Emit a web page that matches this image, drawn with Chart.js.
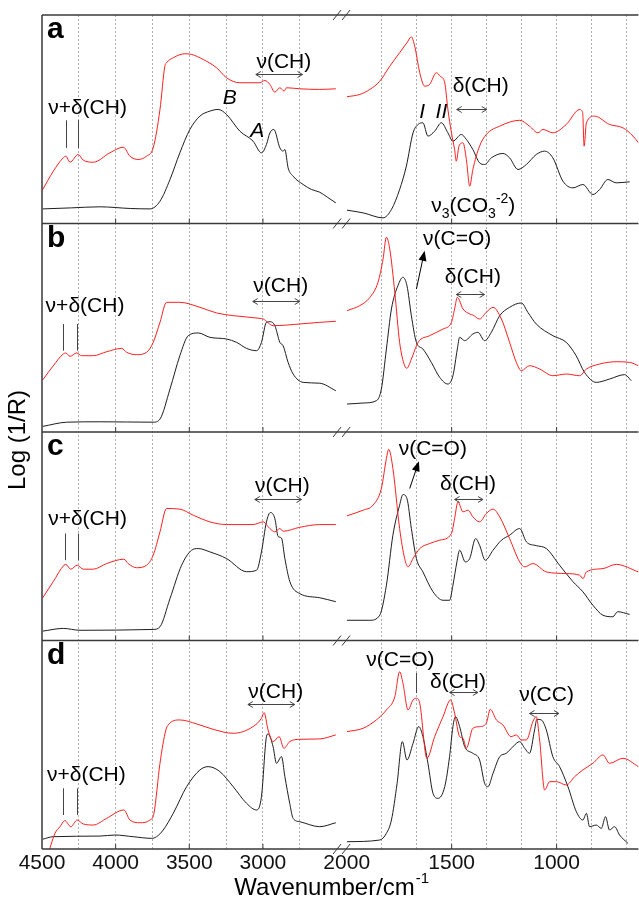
<!DOCTYPE html>
<html>
<head>
<meta charset="utf-8">
<title>NIR / MIR spectra</title>
<script src="https://cdn.jsdelivr.net/npm/chart.js@4.4.1/dist/chart.umd.min.js"></script>
<style>
  html, body { margin: 0; padding: 0; background: #fff; }
  #wrap { width: 639px; height: 906px; }
</style>
</head>
<body>
<div id="wrap"><canvas id="spectraChart" width="639" height="906"></canvas></div>
<script>
// broken wavenumber axis: 4500-2500 on the left, 2000-610 on the right
var hiTicks = [4500, 4250, 4000, 3750, 3500, 3250, 3000, 2750];
var hiLabels = [4500, 4000, 3500, 3000];
var loTicks = [2000, 1833.33, 1666.67, 1500, 1333.33, 1166.67, 1000, 833.33, 666.67];
var loLabels = [2000, 1500, 1000];
var panels = ["a", "b", "c", "d"];

// panel a
var wnRedA = [4495, 4424, 4356, 4339, 4310, 4254, 4220, 4152, 4039, 3948, 3903, 3847, 3790, 3745, 3699, 3666, 3654, 3609, 3530, 3485, 3406, 3315, 3247, 3157, 3021, 2987, 2953, 2919, 2885, 2856, 2840, 2750, 2614, 2505,
  1999, 1938, 1890, 1843, 1795, 1748, 1713, 1692, 1676, 1652, 1629, 1605, 1573, 1554, 1533, 1518, 1501, 1486, 1478, 1465, 1446, 1430, 1414, 1399, 1367, 1335, 1271, 1176, 1129, 1089, 1065, 1018, 954, 890, 876, 869, 858, 819, 748, 684, 636, 610];
var redA = [16.3, 25.0, 31.5, 32.3, 29.4, 33.1, 30.4, 29.4, 33.9, 36.6, 32.3, 30.7, 32.3, 36.3, 54.7, 75.4, 77.1, 79.5, 81.4, 81.1, 78.7, 74.7, 69.9, 67.5, 67.5, 68.6, 66.7, 63.0, 65.1, 63.5, 65.1, 64.6, 64.3, 64.6,
  60.8, 61.9, 64.3, 68.2, 75.4, 81.9, 86.7, 89.5, 85.0, 72.3, 65.9, 66.7, 72.3, 70.6, 67.5, 54.7, 43.5, 35.5, 29.9, 37.1, 38.7, 30.7, 17.9, 25.9, 37.1, 42.7, 46.7, 49.5, 46.7, 43.5, 45.1, 43.5, 47.5, 54.7, 53.2, 37.1, 48.3, 51.5, 47.5, 45.9, 41.9, 38.7];
var wnBlackA = [4495, 4300, 4107, 3900, 3767, 3699, 3631, 3564, 3496, 3428, 3360, 3304, 3247, 3157, 3067, 3010, 2976, 2953, 2926, 2885, 2863, 2851, 2829, 2795, 2727, 2670, 2614, 2560, 2505,
  1999, 1922, 1827, 1787, 1748, 1716, 1684, 1660, 1637, 1613, 1581, 1549, 1518, 1494, 1454, 1430, 1399, 1367, 1343, 1311, 1256, 1224, 1184, 1144, 1097, 1057, 1018, 970, 922, 875, 827, 795, 756, 716, 652];
var blackA = [7.0, 7.5, 8.0, 7.2, 7.0, 10.7, 21.1, 33.9, 45.1, 51.5, 53.9, 54.7, 52.3, 44.3, 39.5, 33.9, 37.9, 43.4, 45.1, 36.3, 34.7, 35.5, 26.7, 22.7, 18.7, 16.3, 15.0, 12.5, 9.9,
  6.4, 5.1, 2.7, 6.7, 16.3, 27.5, 43.5, 47.5, 48.3, 41.9, 44.3, 48.3, 43.5, 39.5, 42.7, 40.3, 35.5, 29.1, 28.3, 31.5, 33.6, 31.5, 25.9, 28.3, 33.1, 34.7, 31.5, 20.3, 17.1, 18.7, 13.9, 16.3, 21.1, 19.5, 20.0];

// panel b
var wnRedB = [4495, 4424, 4356, 4339, 4310, 4265, 4231, 4152, 4061, 3959, 3925, 3857, 3790, 3745, 3699, 3654, 3564, 3428, 3315, 3202, 3021, 2998, 2930, 2750, 2614, 2505,
  1999, 1938, 1890, 1851, 1827, 1811, 1795, 1771, 1748, 1724, 1713, 1692, 1660, 1605, 1541, 1501, 1486, 1473, 1446, 1414, 1399, 1367, 1335, 1303, 1263, 1224, 1192, 1168, 1129, 1081, 1018, 954, 890, 858, 795, 716, 652, 610];
var redB = [25.0, 31.7, 37.4, 37.9, 36.3, 37.9, 36.6, 36.6, 38.5, 40.1, 38.2, 37.1, 38.2, 43.0, 52.6, 62.2, 62.2, 59.8, 57.1, 55.8, 54.5, 54.2, 51.0, 51.8, 52.6, 53.1,
  58.2, 60.6, 64.5, 71.8, 82.9, 93.4, 87.8, 67.0, 43.0, 31.8, 30.6, 35.0, 43.0, 46.2, 49.4, 52.6, 59.0, 64.6, 59.0, 56.6, 56.1, 54.2, 57.4, 59.8, 54.2, 43.0, 33.4, 29.4, 31.8, 30.2, 27.0, 27.8, 27.0, 30.2, 32.6, 33.7, 33.4, 31.8];
var wnBlackB = [4495, 4332, 4107, 3745, 3699, 3631, 3564, 3507, 3439, 3360, 3247, 3179, 3111, 3043, 3010, 2976, 2949, 2919, 2885, 2863, 2829, 2795, 2727, 2614, 2505,
  1999, 1922, 1859, 1835, 1811, 1787, 1756, 1732, 1713, 1692, 1668, 1637, 1597, 1557, 1518, 1494, 1473, 1462, 1438, 1399, 1375, 1343, 1311, 1271, 1224, 1168, 1137, 1097, 1018, 954, 907, 867, 811, 748, 676, 644];
var blackB = [2.7, 4.7, 4.9, 4.7, 6.2, 20.6, 36.6, 46.2, 47.5, 45.4, 44.6, 43.0, 40.1, 39.0, 43.0, 52.6, 52.9, 51.0, 43.0, 41.4, 33.4, 27.8, 23.8, 23.4, 19.8,
  13.4, 13.9, 15.0, 20.6, 39.8, 59.0, 70.2, 74.2, 70.2, 55.8, 43.0, 39.8, 33.4, 26.2, 23.0, 27.0, 39.8, 45.4, 43.8, 47.0, 47.8, 43.8, 47.8, 55.8, 59.8, 61.9, 57.4, 51.8, 46.2, 43.0, 36.6, 28.6, 23.8, 25.4, 27.5, 24.6];

// panel c
var wnRedC = [4495, 4424, 4351, 4339, 4305, 4261, 4220, 4152, 4061, 3944, 3915, 3858, 3790, 3745, 3699, 3654, 3564, 3473, 3360, 3247, 3067, 2998, 2953, 2919, 2885, 2863, 2750, 2614, 2505,
  1999, 1922, 1875, 1835, 1811, 1800, 1780, 1748, 1724, 1708, 1684, 1652, 1605, 1557, 1501, 1486, 1470, 1446, 1422, 1399, 1367, 1335, 1303, 1271, 1224, 1176, 1152, 1113, 1049, 954, 890, 874, 858, 779, 716, 610];
var redC = [20.5, 28.2, 36.1, 36.5, 34.2, 36.1, 34.2, 34.2, 36.9, 39.0, 36.9, 34.9, 36.1, 40.9, 52.1, 63.3, 63.0, 60.1, 56.9, 55.6, 55.6, 56.9, 53.7, 52.1, 53.7, 52.4, 54.3, 55.6, 55.6,
  59.8, 62.5, 64.9, 72.9, 87.3, 91.7, 82.5, 53.7, 39.3, 35.3, 39.3, 44.1, 46.5, 48.1, 51.3, 58.5, 66.5, 61.7, 62.5, 59.3, 56.9, 60.9, 63.0, 59.3, 48.9, 37.7, 35.3, 36.9, 32.9, 32.1, 31.3, 29.7, 32.9, 34.5, 36.5, 32.9];
var wnBlackC = [4495, 4356, 4242, 3745, 3699, 3631, 3552, 3484, 3439, 3360, 3247, 3111, 3043, 3010, 2976, 2949, 2919, 2897, 2874, 2851, 2817, 2750, 2614, 2505,
  1999, 1890, 1843, 1811, 1780, 1748, 1732, 1713, 1692, 1668, 1637, 1589, 1541, 1510, 1494, 1475, 1462, 1435, 1414, 1386, 1367, 1340, 1303, 1263, 1224, 1176, 1144, 1097, 1049, 986, 922, 875, 827, 779, 732, 709, 652];
var blackC = [4.5, 5.8, 4.9, 5.3, 6.6, 20.1, 36.1, 43.3, 44.1, 42.5, 39.3, 33.0, 33.7, 42.5, 56.9, 61.4, 58.5, 49.9, 49.1, 39.3, 28.2, 22.5, 20.5, 18.6,
  9.7, 9.7, 12.1, 26.5, 50.5, 64.9, 70.0, 68.1, 53.7, 39.3, 32.9, 23.4, 19.3, 19.3, 26.5, 37.7, 43.3, 37.7, 39.3, 48.9, 45.7, 38.5, 43.3, 48.1, 50.5, 53.7, 47.3, 45.5, 44.1, 36.1, 28.2, 23.4, 16.9, 12.1, 11.4, 13.8, 12.5];

// panel d
var wnRedD = [4465, 4412, 4378, 4344, 4305, 4261, 4220, 4152, 4061, 3944, 3903, 3835, 3767, 3740, 3699, 3659, 3643, 3564, 3450, 3338, 3202, 3067, 3010, 2992, 2965, 2931, 2890, 2858, 2818, 2750, 2614, 2505,
  1999, 1922, 1859, 1811, 1771, 1748, 1732, 1708, 1684, 1668, 1652, 1618, 1581, 1541, 1505, 1486, 1462, 1446, 1430, 1399, 1367, 1335, 1316, 1287, 1256, 1217, 1192, 1168, 1144, 1113, 1097, 1081, 1057, 1033, 1001, 954, 914, 875, 827, 779, 748, 684, 610];
var redD = [-4.0, 7.5, 10.7, 13.6, 10.7, 13.9, 12.0, 11.5, 14.7, 18.7, 13.9, 12.6, 13.9, 17.1, 41.1, 57.1, 59.5, 61.9, 60.0, 57.4, 55.5, 58.7, 62.7, 65.4, 57.1, 51.5, 53.9, 48.3, 51.5, 52.6, 52.8, 54.7,
  56.3, 57.9, 61.9, 66.7, 73.0, 85.0, 79.5, 66.7, 71.5, 72.3, 69.9, 43.5, 53.9, 63.5, 71.5, 65.1, 53.9, 53.1, 48.3, 57.9, 58.7, 60.3, 67.0, 61.9, 59.5, 53.9, 54.7, 52.3, 52.3, 61.1, 63.5, 52.3, 28.3, 32.3, 32.3, 30.7, 34.7, 37.9, 41.1, 45.1, 41.1, 43.5, 39.5];
var wnBlackD = [4495, 4424, 4107, 4005, 3881, 3756, 3722, 3677, 3609, 3518, 3428, 3372, 3292, 3202, 3111, 3043, 3010, 2976, 2965, 2931, 2908, 2874, 2851, 2818, 2795, 2750, 2614, 2505,
  1999, 1843, 1811, 1787, 1760, 1735, 1713, 1684, 1657, 1637, 1613, 1589, 1565, 1533, 1510, 1494, 1482, 1462, 1438, 1399, 1367, 1343, 1327, 1303, 1271, 1240, 1208, 1176, 1152, 1129, 1105, 1094, 1073, 1049, 1018, 986, 946, 906, 875, 858, 843, 811, 787, 767, 748, 724, 700, 660];
var blackD = [4.7, 5.9, 6.2, 6.7, 5.9, 5.1, 5.9, 9.1, 17.1, 29.9, 37.9, 39.5, 37.1, 29.9, 21.9, 18.7, 25.1, 53.9, 55.2, 49.1, 41.1, 44.3, 34.7, 21.9, 14.7, 13.1, 10.7, 12.6,
  3.5, 4.3, 7.5, 13.9, 31.5, 51.5, 42.7, 50.7, 58.7, 53.9, 41.1, 26.7, 24.3, 29.9, 44.3, 58.7, 63.5, 58.7, 49.1, 45.9, 42.7, 31.5, 29.9, 36.3, 44.3, 45.9, 49.1, 51.5, 48.3, 45.9, 57.1, 62.2, 61.9, 57.1, 44.3, 39.5, 29.9, 17.9, 13.9, 17.1, 10.7, 11.5, 9.9, 15.5, 9.1, 10.7, 6.7, 2.7];

var spectra = {
  a: [[wnRedA, redA], [wnBlackA, blackA]],
  b: [[wnRedB, redB], [wnBlackB, blackB]],
  c: [[wnRedC, redC], [wnBlackC, blackC]],
  d: [[wnRedD, redD], [wnBlackD, blackD]]
};

var RED = "#ff1f1f";
var BLACK = "#1e1e1e";
var FONT = '"Liberation Sans", Arial, sans-serif';

// labels drawn on top of the panels: panel, text, centre wavenumber, baseline (0-100 of panel)
var notes = [
  ["a", "ν+δ(CH)", 4191, 52.6], ["a", "ν(CH)", 2858, 74.8], ["a", "δ(CH)", 1362, 63.0],
  ["b", "ν+δ(CH)", 4208, 57.7], ["b", "ν(CH)", 2879, 67.3], ["b", "ν(C=O)", 1474, 89.7], ["b", "δ(CH)", 1399, 71.5],
  ["c", "ν+δ(CH)", 4191, 55.6], ["c", "ν(CH)", 2868, 71.0], ["c", "ν(C=O)", 1590, 89.2], ["c", "δ(CH)", 1422, 72.4],
  ["d", "ν+δ(CH)", 4199, 32.6], ["d", "ν(CH)", 2913, 72.4], ["d", "ν(C=O)", 1744, 87.8], ["d", "δ(CH)", 1470, 77.4], ["d", "ν(CC)", 1048, 71.0]
];
var italicNotes = [["a", "B", 3225, 57.1], ["a", "A", 3038, 41.7], ["a", "I", 1640, 50.8], ["a", "II", 1549, 50.8]];
var rangeArrows = [
  ["a", 3048, 2731, 71.9], ["a", 1476, 1333, 54.7],
  ["b", 3069, 2750, 63.0], ["b", 1478, 1343, 66.2],
  ["c", 3055, 2738, 68.1], ["c", 1486, 1351, 68.1],
  ["d", 3102, 2784, 69.5], ["d", 1510, 1375, 75.4], ["d", 1129, 989, 65.4]
];
var markLines = [
  ["a", 4339, 49.5, 36.3], ["a", 4254, 49.5, 36.3],
  ["b", 4356, 51.8, 39.0], ["b", 4265, 51.8, 39.0],
  ["c", 4344, 51.3, 38.5], ["c", 4258, 51.3, 38.5],
  ["d", 4356, 29.1, 16.3], ["d", 4265, 29.1, 16.3], ["d", 1668, 84.4, 74.8]
];
var pointerArrows = [["b", 1668, 68.6, 1629, 86.9], ["c", 1700, 72.9, 1656, 86.0]];

function segment(wn, vals, high) {
  var pts = [];
  for (var i = 0; i < wn.length; i++) {
    if (high ? wn[i] >= 2500 : wn[i] <= 2000) pts.push({ x: wn[i], y: vals[i] });
  }
  return pts;
}

var datasets = [];
panels.forEach(function (p) {
  spectra[p].forEach(function (pair, k) {
    [true, false].forEach(function (high) {
      datasets.push({
        label: p + (k ? " black" : " red") + (high ? " high" : " low"),
        data: segment(pair[0], pair[1], high),
        xAxisID: high ? "xHi" : "xLo",
        yAxisID: "y" + p,
        borderColor: k ? BLACK : RED,
        borderWidth: 1,
        pointRadius: 0,
        cubicInterpolationMode: "monotone",
        fill: false
      });
    });
  });
});

function xAxis(ticks, labels, weight, min, max) {
  return {
    type: "linear",
    position: "bottom",
    stack: "wn",
    stackWeight: weight,
    weight: weight === 305 ? 0 : 1,
    reverse: true,
    min: min,
    max: max,
    afterBuildTicks: function (s) { s.ticks = ticks.map(function (v) { return { value: v }; }); },
    afterFit: function (s) { s.height = 28; },
    ticks: {
      autoSkip: false,
      maxRotation: 0,
      padding: 2,
      color: "#111",
      font: { family: FONT, size: 21 },
      callback: function (v) { return labels.indexOf(v) >= 0 ? String(v) : ""; }
    },
    grid: {
      drawTicks: false,
      lineWidth: 1,
      color: function (c) {
        var v = c.tick && c.tick.value;
        return (v === 4500 || v === 2000) ? "rgba(0,0,0,0)" : "#b0b0b0";
      }
    },
    border: { display: false, dash: [2, 2] }
  };
}

var scales = { xHi: xAxis(hiTicks, hiLabels, 305, 2431, 4500), xLo: xAxis(loTicks, loLabels, 292, 610, 2000) };
panels.forEach(function (p, i) {
  scales["y" + p] = {
    type: "linear",
    position: "left",
    stack: "panels",
    stackWeight: 1,
    weight: 4 - i,
    min: 0,
    max: 100,
    afterFit: function (s) { s.width = 0; },
    ticks: { display: false },
    grid: { display: false, drawTicks: false },
    border: { display: false }
  };
});

function arrowHead(ctx, x, y, dir) {
  ctx.moveTo(x + dir * 5, y - 3);
  ctx.lineTo(x, y);
  ctx.lineTo(x + dir * 5, y + 3);
}

var decorPlugin = {
  id: "decor",
  afterDatasetsDraw: function (chart) {
    var ctx = chart.ctx;
    var area = chart.chartArea;
    var hi = chart.scales.xHi, lo = chart.scales.xLo;
    function px(wn) { return wn > 2250 ? hi.getPixelForValue(wn) : lo.getPixelForValue(wn); }
    function py(p, v) { return chart.scales["y" + p].getPixelForValue(v); }

    ctx.save();
    // frames of the four panels
    ctx.strokeStyle = "#3a3a3a";
    ctx.lineWidth = 1.5;
    ctx.beginPath();
    ctx.moveTo(area.left, area.top);
    ctx.lineTo(area.left, area.bottom);
    panels.forEach(function (p) {
      var top = chart.scales["y" + p].top;
      ctx.moveTo(area.left, top);
      ctx.lineTo(area.right, top);
    });
    ctx.moveTo(area.left, area.bottom);
    ctx.lineTo(area.right, area.bottom);
    ctx.stroke();

    // inner major ticks and axis-break marks
    ctx.lineWidth = 1;
    ctx.beginPath();
    panels.forEach(function (p) {
      var bottom = chart.scales["y" + p].bottom;
      hiLabels.concat(loLabels).forEach(function (v) {
        if (v === 4500 || v === 2000) return;
        var x = px(v);
        ctx.moveTo(x, bottom);
        ctx.lineTo(x, bottom - 5);
      });
    });
    var xb = hi.getPixelForValue(2500) + 5.5;
    var edges = panels.map(function (p) { return chart.scales["y" + p].top; }).concat([area.bottom]);
    edges.forEach(function (y) {
      ctx.moveTo(xb - 9, y + 5); ctx.lineTo(xb - 1, y - 5);
      ctx.moveTo(xb, y + 5); ctx.lineTo(xb + 8, y - 5);
    });
    ctx.stroke();

    // panel letters
    ctx.fillStyle = "#000";
    ctx.textAlign = "left";
    ctx.textBaseline = "alphabetic";
    ctx.font = "bold 30px " + FONT;
    panels.forEach(function (p) {
      ctx.fillText(p, area.left + 5, chart.scales["y" + p].top + 23);
    });

    // band labels
    ctx.textAlign = "center";
    ctx.font = "21px " + FONT;
    notes.forEach(function (n) { ctx.fillText(n[1], px(n[2]), py(n[0], n[3])); });
    ctx.font = "italic 21px " + FONT;
    italicNotes.forEach(function (n) { ctx.fillText(n[1], px(n[2]), py(n[0], n[3])); });

    // ν3(CO3^-2) with sub/superscripts
    var x = px(1597), y = py("a", 5.3);
    ctx.textAlign = "left";
    var parts = [["ν", 21, 0], ["3", 14, 6], ["(CO", 21, 0], ["3", 14, 6], ["-2", 14, -9], [")", 21, 0]];
    parts.forEach(function (t) {
      ctx.font = t[1] + "px " + FONT;
      ctx.fillText(t[0], x, y + t[2]);
      x += ctx.measureText(t[0]).width;
    });

    // marker lines and arrows
    ctx.strokeStyle = "#444";
    ctx.lineWidth = 1;
    ctx.beginPath();
    markLines.forEach(function (m) {
      var lx = Math.round(px(m[1])) + 0.5;
      ctx.moveTo(lx, py(m[0], m[2]));
      ctx.lineTo(lx, py(m[0], m[3]));
    });
    rangeArrows.forEach(function (r) {
      var x1 = px(r[1]), x2 = px(r[2]), ay = Math.round(py(r[0], r[3])) + 0.5;
      ctx.moveTo(x1, ay); ctx.lineTo(x2, ay);
      arrowHead(ctx, x1, ay, 1);
      arrowHead(ctx, x2, ay, -1);
    });
    ctx.stroke();

    ctx.strokeStyle = "#000";
    ctx.fillStyle = "#000";
    pointerArrows.forEach(function (a) {
      var x1 = px(a[1]), y1 = py(a[0], a[2]), x2 = px(a[3]), y2 = py(a[0], a[4]);
      var ang = Math.atan2(y2 - y1, x2 - x1);
      ctx.beginPath();
      ctx.moveTo(x1, y1);
      ctx.lineTo(x2 - 8 * Math.cos(ang), y2 - 8 * Math.sin(ang));
      ctx.stroke();
      ctx.beginPath();
      ctx.moveTo(x2, y2);
      ctx.lineTo(x2 - 10 * Math.cos(ang) + 4 * Math.sin(ang), y2 - 10 * Math.sin(ang) - 4 * Math.cos(ang));
      ctx.lineTo(x2 - 10 * Math.cos(ang) - 4 * Math.sin(ang), y2 - 10 * Math.sin(ang) + 4 * Math.cos(ang));
      ctx.closePath();
      ctx.fill();
    });

    // axis titles
    ctx.fillStyle = "#000";
    ctx.font = "24px " + FONT;
    ctx.textAlign = "left";
    var main = "Wavenumber/cm";
    var wMain = ctx.measureText(main).width;
    ctx.font = "15px " + FONT;
    var wSup = ctx.measureText("-1").width;
    var tx = (area.left + area.right) / 2 - 9 - (wMain + wSup) / 2;
    ctx.font = "24px " + FONT;
    ctx.fillText(main, tx, 895);
    ctx.font = "15px " + FONT;
    ctx.fillText("-1", tx + wMain + 1, 883);

    ctx.translate(18, (area.top + area.bottom) / 2 + 8);
    ctx.rotate(-Math.PI / 2);
    ctx.textAlign = "center";
    ctx.textBaseline = "middle";
    ctx.font = "24px " + FONT;
    ctx.fillText("Log (1/R)", 0, 0);
    ctx.restore();
  }
};

document.addEventListener("DOMContentLoaded", function () {
  var ctx = document.getElementById("spectraChart").getContext("2d");
  var spectraChart = new Chart(ctx, {
    type: "line",
    data: { datasets: datasets },
    options: {
      responsive: false,
      animation: false,
      devicePixelRatio: 1,
      layout: { padding: { left: 42, top: 15, right: 0, bottom: 29 } },
      plugins: { legend: { display: false }, tooltip: { enabled: false } },
      scales: scales
    },
    plugins: [decorPlugin]
  });
});
</script>
</body>
</html>
